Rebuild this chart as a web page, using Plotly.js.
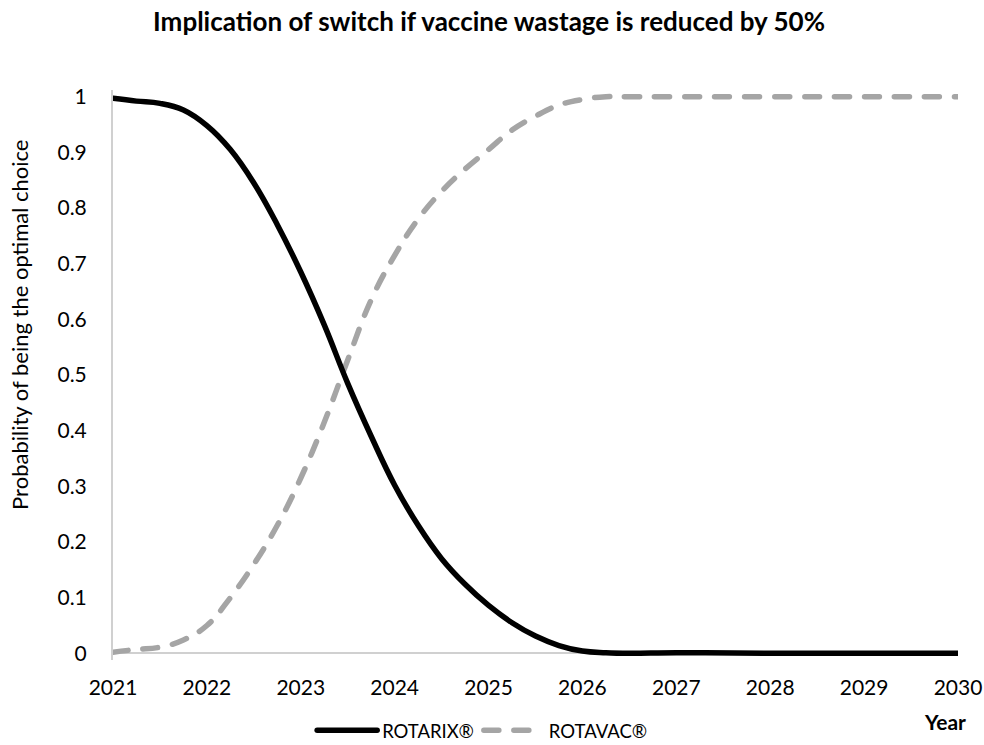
<!DOCTYPE html>
<html>
<head>
<meta charset="utf-8">
<script src="https://cdn.plot.ly/plotly-3.0.1.min.js"></script>
<style>
html,body{margin:0;padding:0;background:#fff;}
#chart{width:984px;height:745px;}
#chart path.js-line, #chart .legendlines path { stroke-linecap: round !important; }
</style>
</head>
<body>
<div id="chart"></div>
<script>
const years = [2021, 2021.25, 2021.5, 2021.75, 2022, 2022.25, 2022.5, 2022.75, 2023, 2023.25, 2023.5, 2023.75, 2024, 2024.25, 2024.5, 2024.75, 2025, 2025.25, 2025.5, 2025.75, 2026, 2026.25, 2026.5, 2027, 2028, 2029, 2030];
const rotarix = [0.997, 0.992, 0.988, 0.976, 0.948, 0.905, 0.845, 0.77, 0.685, 0.59, 0.485, 0.39, 0.302, 0.23, 0.17, 0.124, 0.086, 0.055, 0.031, 0.014, 0.004, 0.001, 0, 0.001, 0, 0, 0];
const rotavac = [0.002, 0.007, 0.011, 0.024, 0.05, 0.1, 0.16, 0.23, 0.315, 0.415, 0.527, 0.635, 0.715, 0.78, 0.83, 0.87, 0.905, 0.94, 0.965, 0.985, 0.995, 1.0, 1.0, 1.0, 1.0, 1.0, 1.0];
const tickYears = [2021, 2022, 2023, 2024, 2025, 2026, 2027, 2028, 2029, 2030];
const yTicks = [0, 0.1, 0.2, 0.3, 0.4, 0.5, 0.6, 0.7, 0.8, 0.9, 1];
const yTickText = ['0', '0.1', '0.2', '0.3', '0.4', '0.5', '0.6', '0.7', '0.8', '0.9', '1'];

const FONT = 'Lato, "Liberation Sans", Arial, sans-serif';

const traces = [
  {x: years, y: rotavac, name: 'ROTAVAC®', type: 'scatter', mode: 'lines',
   line: {color: '#a5a5a5', width: 5.5, dash: '15px,15px', shape: 'spline', smoothing: 1.2}},
  {x: years, y: rotarix, name: 'ROTARIX®', type: 'scatter', mode: 'lines',
   line: {color: '#000000', width: 5.5, shape: 'spline', smoothing: 1.2}}
];

const layout = {
  width: 984, height: 745,
  paper_bgcolor: '#fff', plot_bgcolor: '#fff',
  font: {family: FONT, color: '#000', size: 18},
  margin: {l: 113, r: 26, t: 90.3, b: 85.3},
  title: {text: '<b>Implication of switch if vaccine wastage is reduced by 50%</b>',
          x: 0.497, xref: 'container', xanchor: 'center', y: 0.970, yref: 'container', yanchor: 'middle',
          font: {family: FONT, size: 26, color: '#000'}},
  xaxis: {range: [2021, 2030], tickvals: tickYears, ticktext: tickYears.map(String),
          showgrid: false, zeroline: false, showline: false,
          ticks: 'outside', ticklen: 9, tickcolor: 'rgba(0,0,0,0)',
          tickfont: {family: FONT, size: 21, color: '#000'}},
  yaxis: {range: [-0.012, 1.012], tickvals: yTicks, ticktext: yTickText,
          showgrid: false, zeroline: true, zerolinecolor: '#d0d0d0', zerolinewidth: 2,
          showline: true, linecolor: '#d0d0d0', linewidth: 2,
          ticks: 'outside', ticklen: 20, tickcolor: 'rgba(0,0,0,0)',
          tickfont: {family: FONT, size: 21, color: '#000'}},
  showlegend: true,
  legend: {orientation: 'h', xref: 'container', yref: 'container', x: 0.49, xanchor: 'center', y: 0.019, yanchor: 'middle',
           traceorder: 'reversed', font: {family: FONT, size: 18.5, color: '#000'},
           itemwidth: 60, bgcolor: 'rgba(0,0,0,0)'},
  annotations: [
    {text: '<b>Year</b>', xref: 'paper', yref: 'paper', x: 0.985, y: -0.108,
     xanchor: 'center', yanchor: 'middle', showarrow: false,
     font: {family: FONT, size: 21, color: '#000'}},
    {text: 'Probability of being the optimal choice', xref: 'paper', yref: 'paper', x: -0.110, y: 0.588,
     xanchor: 'center', yanchor: 'middle', textangle: -90, showarrow: false,
     font: {family: FONT, size: 22, color: '#000'}}
  ]
};

Plotly.newPlot('chart', traces, layout, {displayModeBar: false, staticPlot: true});
</script>
</body>
</html>
